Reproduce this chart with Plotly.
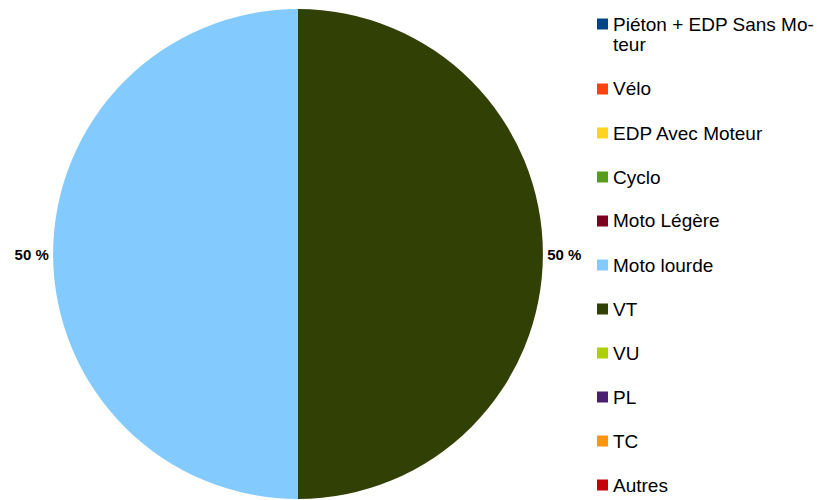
import plotly.graph_objects as go

labels = ["Piéton + EDP Sans Mo-<br>teur", "Vélo", "EDP Avec Moteur", "Cyclo", "Moto Légère",
          "Moto lourde", "VT", "VU", "PL", "TC", "Autres"]
values = [0, 0, 0, 0, 0, 1, 1, 0, 0, 0, 0]
colors = ["#004586", "#ff420e", "#ffd320", "#579d1c", "#7e0021",
          "#83caff", "#314004", "#aecf00", "#4b1f6f", "#ff950e", "#c5000b"]

total = sum(values)
texts = [f"{v / total * 100:.0f} %" if v else "" for v in values]

W, H = 819, 500
cx, cy, r = 298, 254, 245

fig = go.Figure()
fig.add_trace(go.Pie(
    labels=labels, values=values, text=texts, textinfo="text",
    textposition="outside", sort=False, direction="counterclockwise",
    marker=dict(colors=colors, line=dict(width=0)),
    textfont=dict(family="Liberation Sans", size=15, color="#000000", weight="bold"),
    showlegend=False, hoverinfo="label+percent",
    domain=dict(x=[(cx - r) / W, (cx + r) / W], y=[1 - (cy + r) / H, 1 - (cy - r) / H]),
    automargin=False,
))

# manual legend (to match the wide vertical spacing)
shapes = []
annotations = []
y = 24
step = 44
line_h = 21
for lab, col in zip(labels, colors):
    shapes.append(dict(type="rect", xref="paper", yref="paper",
                       x0=597 / W, x1=608 / W, y0=1 - (y + 5.5) / H, y1=1 - (y - 5.5) / H,
                       fillcolor=col, line=dict(width=0)))
    parts = lab.split("<br>")
    for i, part in enumerate(parts):
        annotations.append(dict(text=part, xref="paper", yref="paper", x=610.5 / W,
                                y=1 - (y + i * line_h) / H, xanchor="left", yanchor="middle",
                                showarrow=False, align="left",
                                font=dict(family="Liberation Sans", size=19, color="#000000")))
    y += step + (len(parts) - 1) * line_h

fig.update_layout(
    width=W, height=H, margin=dict(l=0, r=0, t=0, b=0),
    paper_bgcolor="white", plot_bgcolor="white",
    shapes=shapes, annotations=annotations,
)
fig.write_html("out.html", config={"displayModeBar": False},
               post_script="document.body.style.margin='0';document.body.style.overflow='hidden';")
